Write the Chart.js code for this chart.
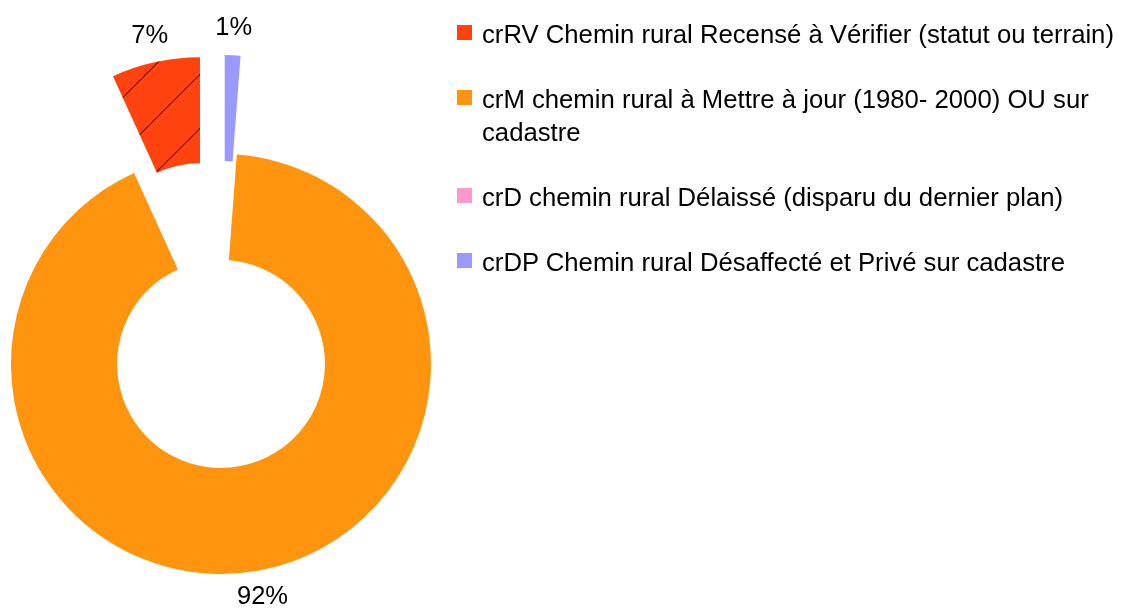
<!DOCTYPE html>
<html>
<head>
<meta charset="utf-8">
<script src="https://cdn.jsdelivr.net/npm/chart.js@4/dist/chart.umd.min.js"></script>
<style>
	html, body { margin: 0; padding: 0; background: #fff; overflow: hidden; }
	#wrap { position: relative; width: 1122px; height: 608px; }
	#chart { position: absolute; left: 0; top: 0; }
	#legend {
		position: absolute; left: 457px; top: 18px; width: 665px;
		font: 25.7px "Liberation Sans", Arial, sans-serif; line-height: 33px; color: #000;
	}
	.item { position: relative; padding-left: 25px; margin-bottom: 32px; }
	.box { position: absolute; left: 0; top: 7px; width: 15px; height: 15px; }
</style>
</head>
<body>
<div id="wrap">
	<canvas id="chart" width="1122" height="608"></canvas>
	<div id="legend"></div>
</div>
<script>
const labels = [
	"crRV Chemin rural Recensé à Vérifier (statut ou terrain)",
	"crM chemin rural à Mettre à jour (1980- 2000) OU sur cadastre",
	"crD chemin rural Délaissé (disparu du dernier plan)",
	"crDP Chemin rural Désaffecté et Privé sur cadastre"
];
const values = [6.8, 92.0, 0, 1.2];
const colors = ["#ff420e", "#ff950e", "#ff99cc", "#9999ff"];
const explode = [99, 0, 0, 99];

// hatched fill for the first slice
function hatch(color) {
	let c = document.createElement("canvas");
	c.width = c.height = 54;
	let g = c.getContext("2d");
	g.fillStyle = color;
	g.fillRect(0, 0, 54, 54);
	g.strokeStyle = "#000";
	g.lineWidth = 1;
	[14, 68].forEach(p => {
		g.beginPath();
		g.moveTo(p - 60, 60);
		g.lineTo(60, p - 60);
		g.stroke();
	});
	return g.createPattern(c, "repeat");
}

let fills = colors.slice();
fills[0] = hatch(colors[0]);

// LibreOffice goes anticlockwise, chart.js clockwise: feed the slices reversed
const rev = a => a.slice().reverse();

// pulled-out slices, moved as a whole along their middle angle
const explodeSlices = {
	id: "explodeSlices",
	beforeDatasetDraw(chart, args) {
		let ctx = chart.ctx;
		let dist = chart.data.datasets[args.index].explode || [];
		args.meta.data.forEach((arc, i) => {
			if (!arc.circumference) return;
			let mid = (arc.startAngle + arc.endAngle) / 2;
			let d = dist[i] || 0;
			ctx.save();
			ctx.translate(Math.cos(mid) * d, Math.sin(mid) * d);
			arc.draw(ctx, chart.chartArea);
			ctx.restore();
		});
		return false;
	},
	afterDatasetsDraw(chart) {
		let meta = chart.getDatasetMeta(0);
		let ds = chart.data.datasets[0];
		let total = ds.data.reduce((a, b) => a + b, 0);
		let ctx = chart.ctx;
		ctx.save();
		ctx.font = '25.5px "Liberation Sans", Arial, sans-serif';
		ctx.fillStyle = "#000";
		ctx.textAlign = "center";
		ctx.textBaseline = "middle";
		meta.data.forEach((arc, i) => {
			if (!ds.data[i]) return;
			let mid = (arc.startAngle + arc.endAngle) / 2;
			let r = arc.outerRadius + (ds.explode[i] || 0) + 27;
			ctx.fillText(Math.round(ds.data[i] / total * 100) + "%", arc.x + Math.cos(mid) * r, arc.y + Math.sin(mid) * r);
		});
		ctx.restore();
	}
};

new Chart(document.getElementById("chart"), {
	type: "doughnut",
	data: {
		labels: rev(labels),
		datasets: [{
			data: rev(values),
			backgroundColor: rev(fills),
			explode: rev(explode),
			hoverOffset: 0,
			borderWidth: 0,
			clip: false
		}]
	},
	options: {
		responsive: false,
		animation: false,
		radius: 210,
		cutout: "49.5%",
		layout: { padding: { left: 0, right: 680, top: 120, bottom: 0 } },
		plugins: {
			legend: { display: false },
			tooltip: { enabled: false }
		}
	},
	plugins: [explodeSlices]
});

let legend = document.getElementById("legend");
labels.forEach((t, i) => {
	let item = document.createElement("div");
	item.className = "item";
	item.innerHTML = '<span class="box" style="background:' + colors[i] + '"></span>' + t;
	legend.appendChild(item);
});
</script>
</body>
</html>
